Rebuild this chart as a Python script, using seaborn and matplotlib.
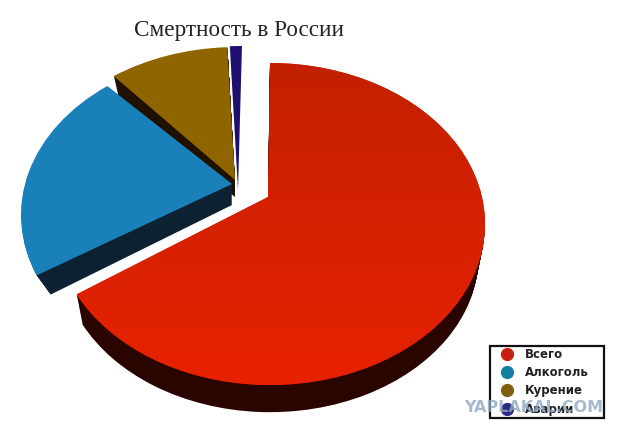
import numpy as np
import matplotlib
matplotlib.use("Agg")
import matplotlib.pyplot as plt
from matplotlib.colors import to_rgb
from matplotlib.lines import Line2D
import seaborn as sns

TITLE = "Смертность в России"
categories = ["Всего", "Алкоголь", "Курение", "Аварии"]
values = [67.8, 20.9, 9.0, 0.9]
top_colors = ["#d92000", "#1a80ba", "#8f6500", "#1f0f70"]
side_colors = ["#2a0500", "#0c2233", "#201000", "#100830"]
legend_colors = ["#c8200f", "#12809f", "#806010", "#2a2a80"]

W, H = 627, 436
RX, RY = 215.0, 161.0          # ellipse radii, pixels
CX, CY = 270.0, 224.0          # main ellipse centre, pixels
slice_centres = [(270, 224), (236, 215), (237, 208), (241, 207)]
slice_apexes = [(268, 197), (232, 184), (235, 180), (238, 190)]
slice_turn = [0, -3.9, -5.7, -5.3]    # degrees
slice_depth = [32, 21, 17, 0]
slice_shift = [0, 8, 1, 0]
slice_z = [6, 4, 2, 2]
STEPS = 32
SHRINK = 0.03

sns.set_theme(style="white")
plt.rcParams["font.family"] = ["Liberation Serif", "DejaVu Serif"]

fig = plt.figure(figsize=(W / 100, H / 100), dpi=100, facecolor="white")
ax = fig.add_axes([0, 0, 1, 1])


def to_data(px, py):
    return (px - CX) / RX, (CY - py) / RY


def draw_layer(colors, f, z_offset, radius=1.0):
    fractions = [v / 100 for v in values]
    wedges, _ = ax.pie(fractions, colors=colors, startangle=90, counterclock=False,
                       normalize=False, radius=radius, wedgeprops={"linewidth": 0})
    for i, w in enumerate(wedges):
        sx, sy = slice_shift[i] * f, slice_depth[i] * f
        c, a = slice_centres[i], slice_apexes[i]
        cx, cy = to_data(c[0] + sx, c[1] + sy)
        w.set_center((cx, cy))
        w.set_theta1(w.theta1 + slice_turn[i])
        w.set_theta2(w.theta2 + slice_turn[i])
        w.set_zorder(slice_z[i] + z_offset)
        if f > 0 and slice_depth[i] == 0:
            w.set_visible(False)
        path = w.get_path()
        # tilted look: the point of each slice sits above the ellipse centre
        d = np.hypot(path.vertices[:, 0] - cx, path.vertices[:, 1] - cy)
        ax_, ay_ = to_data(a[0], a[1] + sy)
        path.vertices[d < 1e-6] = (ax_, ay_)
    return wedges


for step in range(1, STEPS + 1):
    f = step / STEPS
    draw_layer(side_colors, f, -1, radius=1 - SHRINK * f)
tops = draw_layer(top_colors, 0, 0)

# soft vertical shading of the large slice
x0, x1 = -CX / RX, (W - CX) / RX
y0, y1 = (CY - H) / RY, CY / RY
c_top, c_bot = np.array(to_rgb("#c22000")), np.array(to_rgb("#e82200"))
ramp = np.linspace(0, 1, 256)[:, None, None]
img = c_top[None, None, :] * (1 - ramp) + c_bot[None, None, :] * ramp
im = ax.imshow(img, extent=(x0, x1, to_data(0, 385)[1], to_data(0, 63)[1]),
               origin="upper", aspect="auto", zorder=6.5)
im.set_clip_path(tops[0])

ax.set_aspect("auto")
ax.set_xlim(x0, x1)
ax.set_ylim(y0, y1)
ax.axis("off")

ax.set_title(TITLE, fontsize=16.7, color="#222222", x=239 / W, y=1 - 36 / H, pad=0,
             family=["Liberation Serif", "DejaVu Serif"])

handles = [Line2D([], [], linestyle="none", marker="o", markersize=8.5,
                  markerfacecolor=c, markeredgecolor=c) for c in legend_colors]
leg = ax.legend(handles, categories, loc="lower left", mode="expand",
                bbox_to_anchor=(490 / W, 1 - 417.5 / H, 114 / W, 71 / H), borderaxespad=0,
                fancybox=False, framealpha=1, edgecolor="#111111",
                prop={"family": "DejaVu Sans", "size": 8.5, "weight": "bold"},
                labelspacing=0.45, handletextpad=0.25, borderpad=0.15,
                handlelength=2.56)
leg.get_frame().set_linewidth(1.6)
leg.set_zorder(20)
for t in leg.get_texts():
    t.set_color("#222222")

ax.text(534 / W, 1 - 407 / H, "YAPLAKAL.COM", transform=ax.transAxes, ha="center",
        va="center", fontsize=11.5, fontweight="bold", color="#8fa9c4", alpha=0.8,
        family="DejaVu Sans", zorder=30)

fig.savefig("out.png", dpi=100, facecolor="white")
